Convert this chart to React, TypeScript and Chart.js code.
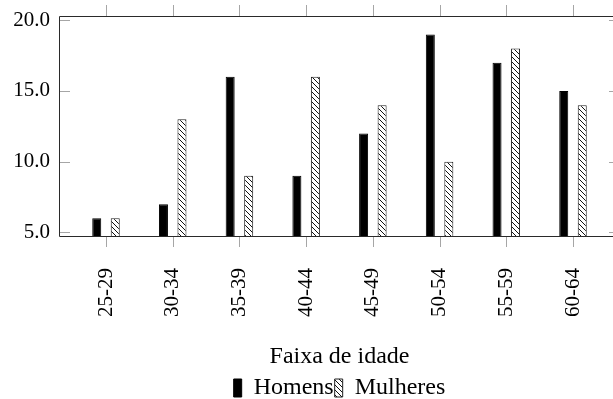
import React, { useEffect, useRef } from "react";
import { Chart, registerables } from "chart.js";

Chart.register(...registerables);

const categories = ["25-29", "30-34", "35-39", "40-44", "45-49", "50-54", "55-59", "60-64"];
const homens = [6, 7, 16, 9, 12, 19, 17, 15];
const mulheres = [6, 13, 9, 16, 14, 10, 18, 14];
const yTicks = [5, 10, 15, 20];
const xTitle = "Faixa de idade";
const seriesNames = ["Homens", "Mulheres"];

const FONT = "'Liberation Serif', 'Times New Roman', serif";

function makeHatch(ctx: CanvasRenderingContext2D): CanvasPattern | string {
  const s = 5;
  const c = document.createElement("canvas");
  c.width = s;
  c.height = s;
  const g = c.getContext("2d");
  if (!g) return "#fff";
  g.fillStyle = "#fff";
  g.fillRect(0, 0, s, s);
  g.strokeStyle = "#111";
  g.lineWidth = 1;
  g.beginPath();
  g.moveTo(-1, -1);
  g.lineTo(s + 1, s + 1);
  g.moveTo(-1, s - 1);
  g.lineTo(1, s + 1);
  g.moveTo(s - 1, -1);
  g.lineTo(s + 1, 1);
  g.stroke();
  return ctx.createPattern(c, "repeat") || "#fff";
}

const framePlugin = {
  id: "pgfFrame",
  afterDatasetsDraw(chart: any) {
    const { ctx, chartArea, scales } = chart;
    const { left, right, top, bottom } = chartArea;
    const xs = scales.x;
    const ys = scales.y;
    const tl = 11;
    ctx.save();
    ctx.lineWidth = 1;
    ctx.strokeStyle = "#a6a6a6";
    ctx.beginPath();
    categories.forEach((_, i) => {
      const px = Math.round(xs.getPixelForValue(i)) + 0.5;
      ctx.moveTo(px, top - tl);
      ctx.lineTo(px, top);
      ctx.moveTo(px, bottom);
      ctx.lineTo(px, bottom + tl);
    });
    yTicks.forEach((v) => {
      const py = Math.round(ys.getPixelForValue(v)) + 0.5;
      ctx.moveTo(left, py);
      ctx.lineTo(left + tl, py);
      ctx.moveTo(right - tl, py);
      ctx.lineTo(right, py);
    });
    ctx.stroke();
    ctx.strokeStyle = "#2a2a2a";
    ctx.beginPath();
    ctx.rect(Math.round(left) + 0.5, Math.round(top) + 0.5, Math.round(right - left), Math.round(bottom - top));
    ctx.stroke();
    ctx.restore();
  },
};

export default function App() {
  const ref = useRef<HTMLCanvasElement | null>(null);

  useEffect(() => {
    document.body.style.margin = "0";
    const canvas = ref.current;
    if (!canvas) return;
    const ctx = canvas.getContext("2d");
    if (!ctx) return;
    const hatch = makeHatch(ctx);

    const chart = new Chart(ctx, {
      type: "bar",
      data: {
        datasets: [
          {
            label: seriesNames[0],
            data: homens.map((v, i) => ({ x: i, y: v })),
            backgroundColor: "#000",
            borderColor: "#000",
            borderWidth: 1,
            borderSkipped: false,
            categoryPercentage: 0.555,
            barPercentage: 0.4865,
          },
          {
            label: seriesNames[1],
            data: mulheres.map((v, i) => ({ x: i, y: v })),
            backgroundColor: hatch as any,
            borderColor: "#222",
            borderWidth: 1,
            borderSkipped: false,
            categoryPercentage: 0.555,
            barPercentage: 0.4865,
          },
        ],
      },
      options: {
        responsive: false,
        animation: false,
        layout: { padding: { left: 0, top: 16, right: 0, bottom: -11 } },
        scales: {
          x: {
            type: "linear",
            offset: false,
            min: -0.7045,
            max: 7.7045,
            grid: { display: false, drawTicks: false },
            border: { display: false },
            afterBuildTicks: (axis: any) => {
              axis.ticks = categories.map((_, i) => ({ value: i }));
            },
            afterFit: (scale: any) => {
              scale.height = 139;
              scale.paddingLeft = 0;
              scale.paddingRight = 0;
            },
            ticks: {
              autoSkip: false,
              minRotation: 90,
              maxRotation: 90,
              padding: 32,
              color: "#000",
              font: { family: FONT, size: 21 },
              callback: (v: any) => categories[Math.round(Number(v))] ?? "",
            },
            title: {
              display: true,
              text: xTitle,
              color: "#000",
              font: { family: FONT, size: 24 },
              padding: { top: 0, bottom: 4 },
            },
          },
          y: {
            min: 4.75,
            max: 20.3,
            grid: { display: false, drawTicks: false },
            border: { display: false },
            afterBuildTicks: (axis: any) => {
              axis.ticks = yTicks.map((v) => ({ value: v }));
            },
            afterFit: (scale: any) => {
              scale.width = 59;
            },
            ticks: {
              padding: 9,
              color: "#000",
              font: { family: FONT, size: 21, lineHeight: 0.5 },
              callback: (v: any) => Number(v).toFixed(1),
            },
          },
        },
        plugins: {
          tooltip: { enabled: false },
          legend: {
            position: "bottom",
            fullSize: false,
            labels: {
              boxWidth: 8,
              boxHeight: 18,
              padding: 1,
              color: "#000",
              font: { family: FONT, size: 24 },
            },
          },
        },
      },
      plugins: [framePlugin],
    });
    return () => chart.destroy();
  }, []);

  return (
    <div style={{ width: 613, height: 399, overflow: "hidden" }}>
      <canvas ref={ref} width={620} height={399} style={{ display: "block" }} />
    </div>
  );
}
